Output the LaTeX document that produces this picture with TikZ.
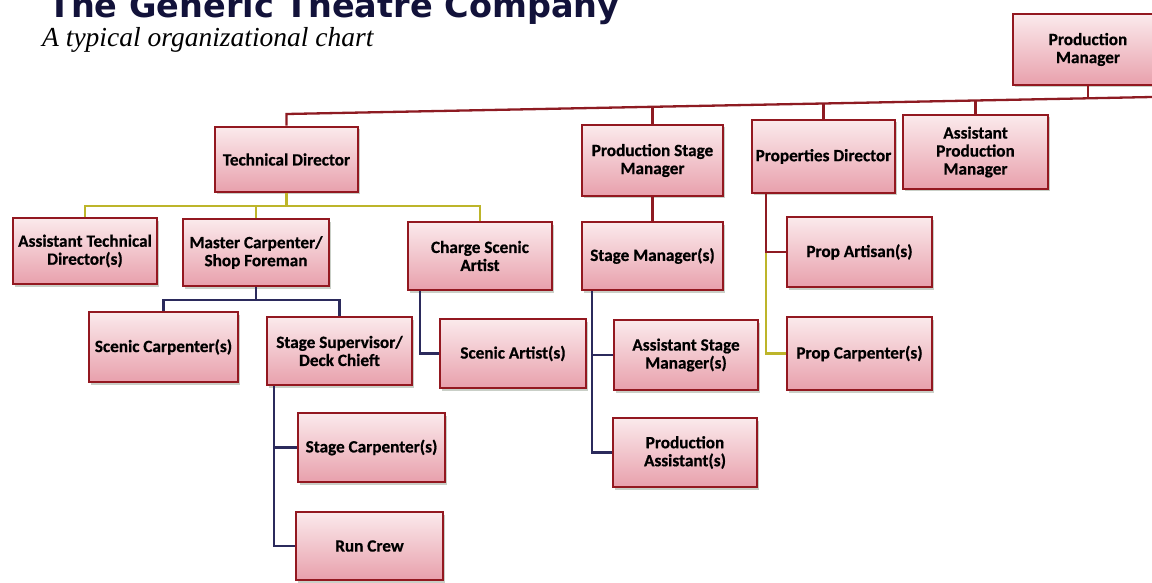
\documentclass[tikz,border=0pt]{standalone}
\usepackage{fontspec}
\usepackage{graphicx}
\usetikzlibrary{shadows,calc}
\newfontfamily\boxfont{Carlito}[BoldFeatures={FakeBold=0.6}]
\newfontfamily\titlefont{DejaVu Sans}
\newfontfamily\subfont{Liberation Serif}
\definecolor{boxred}{HTML}{931820}
\definecolor{pinktop}{HTML}{FBEAEC}
\definecolor{pinkbot}{HTML}{E8A0AC}
\definecolor{maroonline}{HTML}{8E1B22}
\definecolor{yelline}{HTML}{BDB52A}
\definecolor{navyline}{HTML}{2B2A5C}
\definecolor{titlenavy}{HTML}{12123A}
\definecolor{shadowc}{HTML}{9EA89A}
\begin{document}
\begin{tikzpicture}[x=1pt,y=-1pt,
  box/.style={draw=boxred, line width=2.5pt, top color=pinktop, bottom color=pinkbot,
    minimum width=145pt, minimum height=68pt, align=center, inner sep=1pt,
    font={\boxfont\bfseries\fontsize{17.2}{18}\selectfont},
    drop shadow={shadow xshift=1.5pt, shadow yshift=-2.5pt, fill=shadowc, opacity=0.55}},
  conn/.style={line width=2.3pt},
  red line/.style={conn, draw=maroonline},
  yel line/.style={conn, draw=yelline},
  navy line/.style={conn, draw=navyline}]
\useasboundingbox[fill=white] (0,0) rectangle (1152,583);

% titles
\node[anchor=base west, inner sep=0, text=titlenavy,
  font={\titlefont\bfseries\fontsize{33.5}{33.5}\selectfont}] (title) at (48,18) {The Generic Theatre Company};
\node[anchor=base west, inner sep=0, text=black,
  font={\subfont\itshape\fontsize{27.5}{27.5}\selectfont}] (subtitle) at (42,47) {A typical organizational chart};

% boxes
\node[box, minimum width=150pt, minimum height=71pt] (pm) at (1088,49.5) {Production\\Manager};
\node[box, minimum width=143pt, minimum height=65pt] (td) at (286.5,159.5) {Technical Director};
\node[box, minimum width=141pt, minimum height=71pt] (psm) at (652.5,160.5) {Production Stage\\Manager};
\node[box, minimum width=143pt, minimum height=73pt] (pd) at (823.5,156.5) {Properties Director};
\node[box, minimum width=145pt, minimum height=74pt] (apm) at (975.5,152) {Assistant\\Production\\Manager};
\node[box, minimum width=144pt, minimum height=66pt] (atd) at (85,251) {Assistant Technical\\Director(s)};
\node[box, minimum width=146pt, minimum height=67pt] (mc) at (256,252.5) {Master Carpenter/\\Shop Foreman};
\node[box, minimum width=144pt, minimum height=68pt] (csa) at (480,256) {Charge Scenic\\Artist};
\node[box, minimum width=141pt, minimum height=68pt] (sm) at (652.5,256) {Stage Manager(s)};
\node[box, minimum width=145pt, minimum height=70pt] (pa) at (859.5,252) {Prop Artisan(s)};
\node[box, minimum width=149pt, minimum height=70pt] (sc) at (163.5,347) {Scenic Carpenter(s)};
\node[box, minimum width=145pt, minimum height=68pt] (ss) at (339.5,351) {Stage Supervisor/\\Deck Chieft};
\node[box, minimum width=146pt, minimum height=69pt] (sa) at (513,353.5) {Scenic Artist(s)};
\node[box, minimum width=144pt, minimum height=70pt] (asm) at (686,355) {Assistant Stage\\Manager(s)};
\node[box, minimum width=145pt, minimum height=73pt] (pc) at (859.5,353.5) {Prop Carpenter(s)};
\node[box, minimum width=147pt, minimum height=69pt] (stc) at (371.5,447.5) {Stage Carpenter(s)};
\node[box, minimum width=144pt, minimum height=69pt] (pas) at (685,452.5) {Production\\Assistant(s)};
\node[box, minimum width=147pt, minimum height=68pt] (rc) at (369.5,546) {Run Crew};

% main bus (slightly tilted as in the photo)
\coordinate (bL) at (286.5,114);
\coordinate (j2) at (652.5,106.8);
\coordinate (j3) at (823.5,103.5);
\coordinate (j4) at (975.5,100.5);
\coordinate (j5) at (1088,98.3);
\coordinate (bR) at (1152,97);
\draw[red line] (td.north) -- (bL) -- (j2) -- (j3) -- (j4) -- (j5) -- (bR);
\draw[red line] (psm.north) -- (j2);
\draw[red line] (pd.north) -- (j3);
\draw[red line] (apm.north) -- (j4);
\draw[red line] (pm.south) -- (j5);

% technical director branch
\coordinate (tdbus) at (0,206);
\draw[yel line] (atd.north) -- (atd.north |- tdbus) -| (csa.north);
\draw[yel line] (td.south) -- (td.south |- tdbus);
\draw[yel line] (mc.north) -- (mc.north |- tdbus);

% master carpenter branch
\coordinate (mcbus) at (0,300);
\draw[navy line] (sc.north) -- (sc.north |- mcbus) -| (ss.north);
\draw[navy line] (mc.south) -- (mc.south |- mcbus);

% stage supervisor branch
\coordinate (ssv) at ([xshift=8pt]ss.south west);
\draw[navy line] (ssv) |- (rc.west);
\draw[navy line] (ssv) |- (stc.west);

% charge scenic artist branch
\coordinate (csav) at ([xshift=13pt]csa.south west);
\draw[navy line] (csav) |- (sa.west);

% production stage manager branch
\draw[red line] (psm.south) -- (sm.north);
\coordinate (smv) at ([xshift=11pt]sm.south west);
\draw[navy line] (smv) |- (pas.west);
\draw[navy line] (smv) |- (asm.west);

% properties director branch
\coordinate (pdv) at ([xshift=15pt]pd.south west);
\coordinate (pdj) at (pdv |- pa.west);
\draw[yel line] (pdj) |- (pc.west);
\draw[red line] (pdv) -- (pdj) -- (pa.west);
\end{tikzpicture}
\end{document}
